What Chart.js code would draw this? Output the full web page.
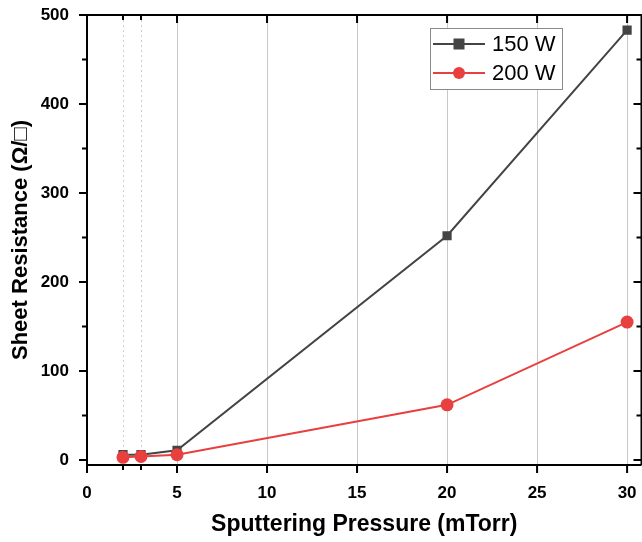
<!DOCTYPE html>
<html>
<head>
<meta charset="utf-8">
<script src="https://cdn.jsdelivr.net/npm/chart.js@4"></script>
<style>
  html, body { margin: 0; padding: 0; background: #fff; overflow: hidden; }
  #wrap { width: 648px; height: 542px; position: relative; }
</style>
</head>
<body>
<div id="wrap"><canvas id="chart"></canvas></div>
<script>
  // data
  const pressure = [2, 3, 5, 20, 30];
  const r150 = [6, 6, 11, 252, 483];
  const r200 = [3, 4, 6, 62, 155];
  const seriesNames = ['150 W', '200 W'];

  const xTicks = [0, 5, 10, 15, 20, 25, 30];
  const xMinorTicks = [2, 3];
  const yTicks = [0, 100, 200, 300, 400, 500];
  const yMinorTicks = [50, 150, 250, 350, 450];

  const DARK = '#444444';
  const RED = '#e8403f';
  const FONT = "'Liberation Sans', Arial, sans-serif";

  const toPts = (xs, ys) => xs.map((x, i) => ({ x, y: ys[i] }));

  // frame, grid lines, tick marks and the legend box (Origin style)
  const originFrame = {
    id: 'originFrame',
    beforeDatasetsDraw(chart) {
      const { ctx, chartArea: a, scales: { x } } = chart;
      ctx.save();
      ctx.lineWidth = 1;
      ctx.strokeStyle = '#c8c8c8';
      xTicks.forEach(v => {
        if (v === 0) return;
        const px = Math.round(x.getPixelForValue(v)) + 0.5;
        ctx.beginPath(); ctx.moveTo(px, a.top); ctx.lineTo(px, a.bottom); ctx.stroke();
      });
      ctx.setLineDash([2, 3]);
      ctx.strokeStyle = '#cfcfcf';
      xMinorTicks.forEach(v => {
        const px = Math.round(x.getPixelForValue(v)) + 0.5;
        ctx.beginPath(); ctx.moveTo(px, a.top); ctx.lineTo(px, a.bottom); ctx.stroke();
      });
      ctx.restore();
    },
    afterDatasetsDraw(chart) {
      const { ctx, chartArea: a, scales: { x, y } } = chart;
      ctx.save();
      ctx.strokeStyle = '#000';
      ctx.lineWidth = 2;
      // frame
      ctx.beginPath();
      ctx.moveTo(a.left, a.bottom); ctx.lineTo(a.left, a.top); ctx.lineTo(a.right, a.top); ctx.lineTo(a.right, a.bottom);
      ctx.moveTo(a.left - 1, a.bottom); ctx.lineTo(a.right, a.bottom);
      ctx.stroke();
      // x ticks: bottom outward, top inward
      const xt = (v, len) => {
        const px = x.getPixelForValue(v);
        ctx.beginPath();
        ctx.moveTo(px, a.bottom); ctx.lineTo(px, a.bottom + len);
        ctx.moveTo(px, a.top); ctx.lineTo(px, a.top + len);
        ctx.stroke();
      };
      xTicks.forEach(v => xt(v, 8));
      xMinorTicks.forEach(v => xt(v, 5));
      // y ticks: left outward, right inward
      const yt = (v, len) => {
        const py = y.getPixelForValue(v);
        ctx.beginPath();
        ctx.moveTo(a.left, py); ctx.lineTo(a.left - len, py);
        ctx.moveTo(a.right, py); ctx.lineTo(a.right - len, py);
        ctx.stroke();
      };
      yTicks.forEach(v => yt(v, 8));
      yMinorTicks.forEach(v => yt(v, 5));

      // legend
      const lx = 430, ly = 28, lw = 132, lh = 61;
      ctx.lineWidth = 1;
      ctx.strokeStyle = '#8a8a8a';
      ctx.fillStyle = '#fff';
      ctx.fillRect(lx, ly, lw, lh);
      ctx.strokeRect(lx + 0.5, ly + 0.5, lw, lh);
      const rows = [
        { name: seriesNames[0], color: '#444', mark: 'rect', yy: ly + 16 },
        { name: seriesNames[1], color: RED, mark: 'circle', yy: ly + 45 }
      ];
      rows.forEach(r => {
        ctx.strokeStyle = r.color;
        ctx.fillStyle = r.color;
        ctx.lineWidth = 2;
        ctx.beginPath(); ctx.moveTo(lx + 3, r.yy); ctx.lineTo(lx + 55, r.yy); ctx.stroke();
        if (r.mark === 'rect') {
          ctx.fillRect(lx + 29 - 5.5, r.yy - 5.5, 11, 11);
        } else {
          ctx.beginPath(); ctx.arc(lx + 29, r.yy, 6, 0, Math.PI * 2); ctx.fill();
        }
        ctx.fillStyle = '#000';
        ctx.font = '22px ' + FONT;
        ctx.textBaseline = 'middle';
        ctx.textAlign = 'left';
        ctx.fillText(r.name, lx + 62, r.yy + 1);
      });
      ctx.restore();
    }
  };

  new Chart(document.getElementById('chart'), {
    type: 'scatter',
    data: {
      datasets: [
        {
          label: seriesNames[1],
          data: toPts(pressure, r200),
          showLine: true,
          borderColor: RED,
          backgroundColor: RED,
          borderWidth: 2,
          pointStyle: 'circle',
          pointRadius: 6.5,
          pointBorderWidth: 0
        },
        {
          label: seriesNames[0],
          data: toPts(pressure, r150),
          showLine: true,
          borderColor: DARK,
          backgroundColor: DARK,
          borderWidth: 2,
          pointStyle: 'rect',
          pointRadius: 6.5,
          pointBorderWidth: 0
        }
      ]
    },
    options: {
      responsive: true,
      maintainAspectRatio: false,
      animation: false,
      layout: { padding: { top: 15, right: 0, left: 0, bottom: 0 } },
      plugins: {
        legend: { display: false },
        tooltip: { enabled: false }
      },
      scales: {
        x: {
          type: 'linear',
          min: 0,
          max: 30.8,
          afterBuildTicks: s => { s.ticks = xTicks.map(v => ({ value: v })); },
          afterFit: s => { s.height = 77; s.paddingLeft = 0; s.paddingRight = 0; },
          grid: { display: false },
          border: { display: false },
          ticks: {
            color: '#000',
            padding: 10,
            maxRotation: 0,
            font: { family: FONT, size: 17, weight: 'bold' }
          },
          title: {
            display: true,
            text: 'Sputtering Pressure (mTorr)',
            color: '#000',
            padding: { top: 5 },
            font: { family: FONT, size: 23, weight: 'bold' }
          }
        },
        y: {
          min: -5.6,
          max: 500,
          afterBuildTicks: s => { s.ticks = yTicks.map(v => ({ value: v })); },
          afterFit: s => { s.width = 87; s.paddingTop = 0; s.paddingBottom = 0; },
          grid: { display: false },
          border: { display: false },
          ticks: {
            color: '#000',
            padding: 10,
            font: { family: FONT, size: 17, weight: 'bold' }
          },
          title: {
            display: true,
            text: 'Sheet Resistance (Ω/□)',
            color: '#000',
            padding: { top: 8, bottom: 0 },
            font: { family: FONT, size: 22, weight: 'bold' }
          }
        }
      }
    },
    plugins: [originFrame]
  });
</script>
</body>
</html>
